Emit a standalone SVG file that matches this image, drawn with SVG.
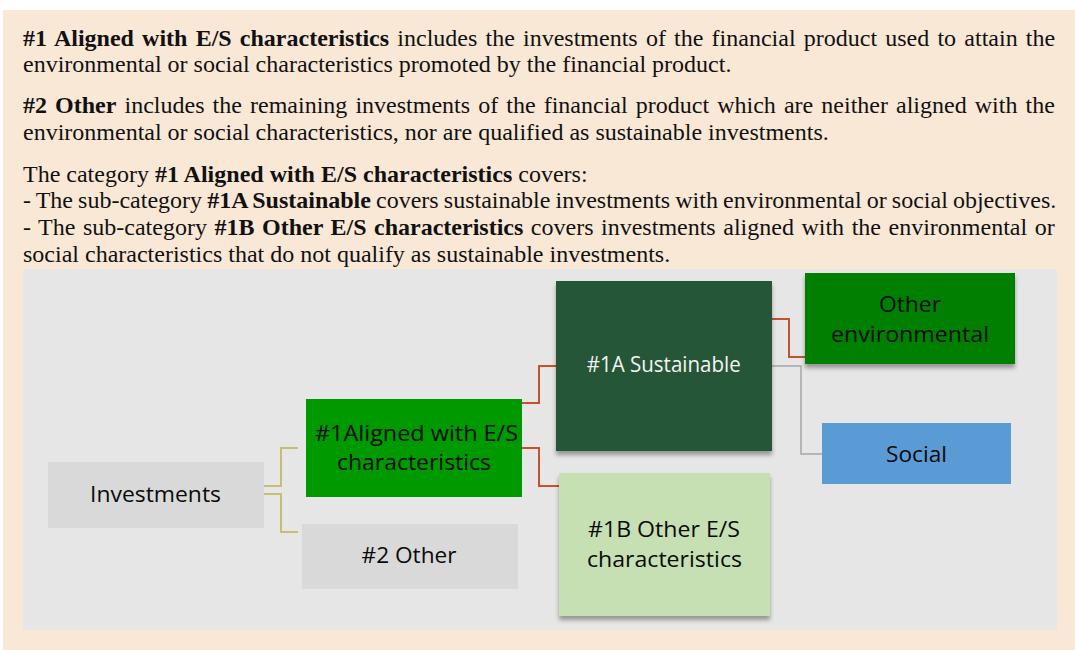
<svg xmlns="http://www.w3.org/2000/svg" width="1075" height="650" viewBox="0 0 1075 650">
<defs>
<style>
.body{font-family:"Liberation Serif","Times New Roman",serif;font-size:24px;fill:#111}
.b{font-weight:bold}
.lbl{font-family:"Open Sans","Noto Sans",sans-serif;font-size:22px;text-anchor:middle;fill:#0a0a0a}
.wht{fill:#f4f4f4}
.c1{fill:none;stroke:#c9bd74;stroke-width:2}
.c2{fill:none;stroke:#c5522f;stroke-width:2}
.c3{fill:none;stroke:#a6a6a6;stroke-width:1.5}
</style>
<filter id="sh" x="-10%" y="-10%" width="125%" height="130%">
<feDropShadow dx="0" dy="4" stdDeviation="2" flood-color="#000" flood-opacity="0.35"/>
</filter>
</defs>
<rect x="3" y="10" width="1072" height="640" fill="#fae8d7"/>
<g id="text-block">
<text class="body" x="23" y="46" word-spacing="2.2"><tspan class="b">#1 Aligned with E/S characteristics</tspan> includes the investments of the financial product used to attain the</text>
<text class="body" x="23" y="72">environmental or social characteristics promoted by the financial product.</text>
<text class="body" x="23" y="113" word-spacing="2.1"><tspan class="b">#2 Other</tspan> includes the remaining investments of the financial product which are neither aligned with the</text>
<text class="body" x="23" y="140">environmental or social characteristics, nor are qualified as sustainable investments.</text>
<text class="body" x="23" y="182">The category <tspan class="b">#1 Aligned with E/S characteristics</tspan> covers:</text>
<text class="body" x="23" y="208" word-spacing="-0.9">- The sub-category <tspan class="b">#1A Sustainable</tspan> covers sustainable investments with environmental or social objectives.</text>
<text class="body" x="23" y="235" word-spacing="1.55">- The sub-category <tspan class="b">#1B Other E/S characteristics</tspan> covers investments aligned with the environmental or</text>
<text class="body" x="23" y="262">social characteristics that do not qualify as sustainable investments.</text>
</g>
<rect x="23" y="269" width="1034" height="361" fill="#e6e6e6"/>
<g id="connectors">
<path class="c1" d="M264,486 H281 V448 H298"/>
<path class="c1" d="M264,494 H281 V532 H298"/>
<path class="c2" d="M522,403 H539 V366 H556"/>
<path class="c2" d="M522,448 H539 V486 H559"/>
<path class="c2" d="M772,319 H789 V357 H805"/>
<path class="c3" d="M772,366 H801 V454 H822"/>
</g>
<g id="investments">
<rect x="48" y="462" width="216" height="66" fill="#d9d9d9"/>
<text class="lbl" x="155.5" y="502" textLength="131" lengthAdjust="spacingAndGlyphs">Investments</text>
</g>
<g id="aligned">
<rect x="306" y="399" width="216" height="98" fill="#009900"/>
<text class="lbl" x="416.5" y="441" textLength="203" lengthAdjust="spacingAndGlyphs">#1Aligned with E/S</text>
<text class="lbl" x="414" y="470" textLength="154" lengthAdjust="spacingAndGlyphs">characteristics</text>
</g>
<g id="other">
<rect x="302" y="524" width="216" height="65" fill="#d9d9d9"/>
<text class="lbl" x="409" y="563" textLength="95" lengthAdjust="spacingAndGlyphs">#2 Other</text>
</g>
<g id="sustainable">
<rect x="556" y="281" width="216" height="170" fill="#265639" filter="url(#sh)"/>
<text class="lbl wht" x="663.7" y="372" textLength="154" lengthAdjust="spacingAndGlyphs">#1A Sustainable</text>
</g>
<g id="other-es">
<rect x="559" y="473" width="211" height="143" fill="#c6e0b4" filter="url(#sh)"/>
<text class="lbl" x="664" y="536.5" textLength="152" lengthAdjust="spacingAndGlyphs">#1B Other E/S</text>
<text class="lbl" x="664.5" y="566.5" textLength="155" lengthAdjust="spacingAndGlyphs">characteristics</text>
</g>
<g id="other-env">
<rect x="805" y="273" width="210" height="91" fill="#007f00" filter="url(#sh)"/>
<text class="lbl" x="910" y="312" textLength="62" lengthAdjust="spacingAndGlyphs">Other</text>
<text class="lbl" x="910" y="342" textLength="158" lengthAdjust="spacingAndGlyphs">environmental</text>
</g>
<g id="social">
<rect x="822" y="423" width="189" height="61" fill="#5b9bd5"/>
<text class="lbl" x="916.5" y="462" textLength="61" lengthAdjust="spacingAndGlyphs">Social</text>
</g>
</svg>
